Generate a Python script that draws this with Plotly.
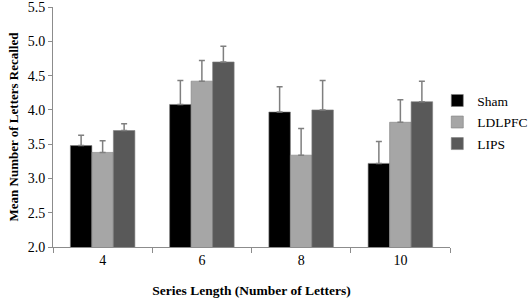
import plotly.graph_objects as go

categories = ["4", "6", "8", "10"]
sham = [3.48, 4.08, 3.97, 3.22]
sham_err = [0.15, 0.35, 0.37, 0.32]
ldlpfc = [3.38, 4.42, 3.34, 3.82]
ldlpfc_err = [0.17, 0.30, 0.39, 0.33]
lips = [3.70, 4.70, 4.00, 4.12]
lips_err = [0.10, 0.23, 0.43, 0.30]
y_ticks = [2.0, 2.5, 3.0, 3.5, 4.0, 4.5, 5.0, 5.5]

series = [
    ("Sham", sham, sham_err, "#000000"),
    ("LDLPFC", ldlpfc, ldlpfc_err, "#a6a6a6"),
    ("LIPS", lips, lips_err, "#595959"),
]

FF = "Liberation Serif"

fig = go.Figure()
for name, vals, errs, color in series:
    fig.add_trace(go.Bar(
        x=categories, y=vals, name=name, legendgroup=name,
        marker=dict(color=color, line=dict(color="#7f7f7f", width=0.6)),
        error_y=dict(type="data", array=errs, arrayminus=[0] * len(errs),
                     symmetric=False, color="#7f7f7f", thickness=1.5, width=3),
    ))

fig.update_layout(
    width=529, height=298,
    margin=dict(l=53, r=79, t=7, b=51, autoexpand=False),
    paper_bgcolor="white", plot_bgcolor="white",
    barmode="group", bargap=0.35, bargroupgap=0,
    font=dict(family=FF, size=14, color="#000000"),
    legend=dict(x=0.968, y=0.52, xanchor="left", yanchor="middle",
                font=dict(family=FF, size=13.5, color="#000000"),
                tracegroupgap=1, itemwidth=30),
    showlegend=True,
)
fig.update_xaxes(
    type="category", showline=True, linecolor="#8c8c8c", linewidth=1,
    ticks="outside", tickson="boundaries", ticklen=5, tickcolor="#8c8c8c",
    showgrid=False, automargin=False,
    tickfont=dict(family=FF, size=14, color="#000000"),
    title=dict(text="<b>Series Length (Number of Letters)</b>",
               font=dict(family=FF, size=13.5, color="#000000"), standoff=18),
)
fig.update_yaxes(
    range=[2.0, 5.502], tickmode="array", tickvals=y_ticks,
    ticktext=[f"{v:.1f}" for v in y_ticks],
    showline=True, linecolor="#8c8c8c", linewidth=1,
    ticks="outside", ticklen=4, tickcolor="#8c8c8c", showgrid=False,
    zeroline=False, automargin=False,
    tickfont=dict(family=FF, size=14, color="#000000"),
    title=dict(text="<b>Mean Number of Letters Recalled</b>",
               font=dict(family=FF, size=13, color="#000000"), standoff=6),
)

fig.write_html("out.html", config={"displayModeBar": False},
               post_script="document.body.style.margin='0';document.body.style.padding='0';")
